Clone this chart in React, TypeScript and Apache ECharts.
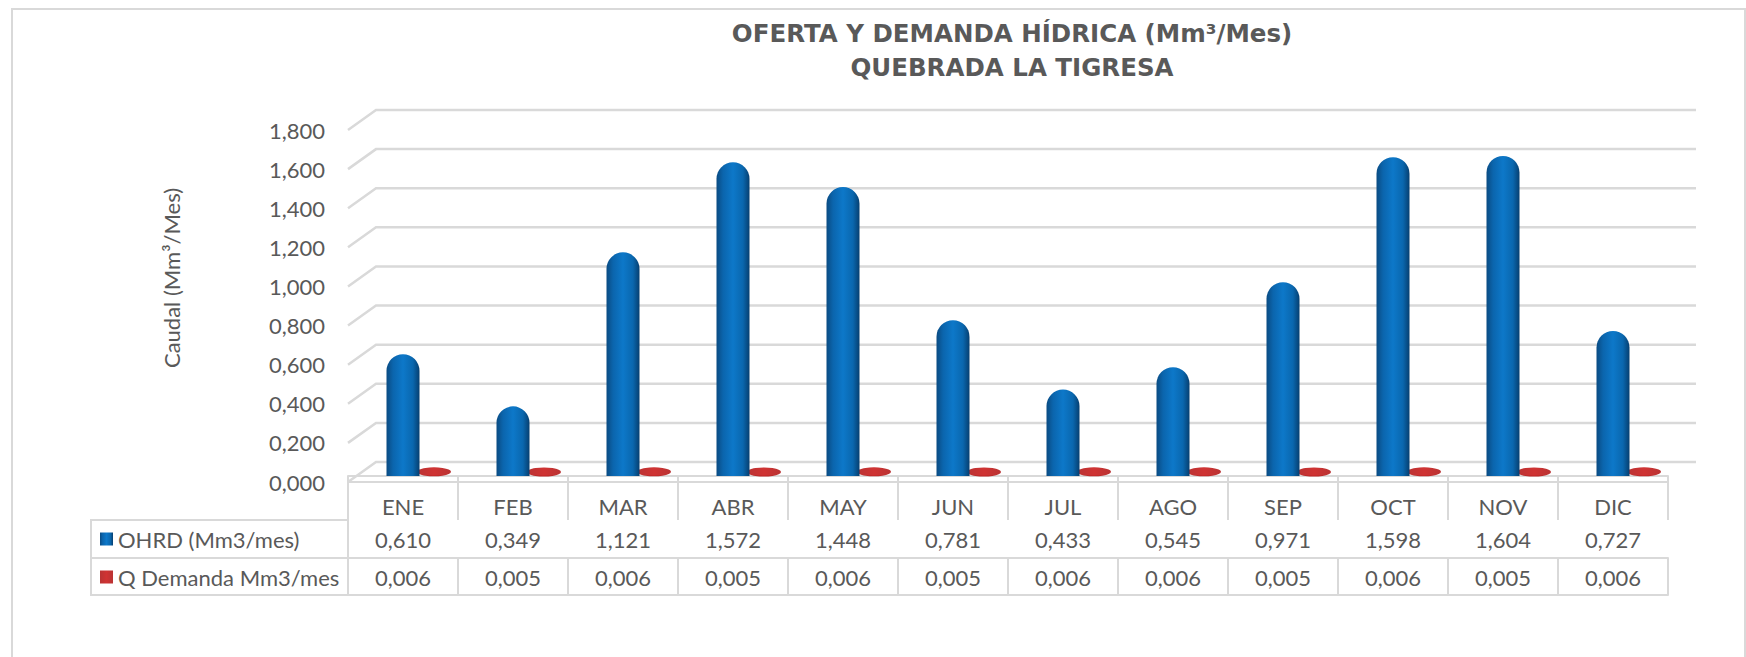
import React, { useEffect, useRef } from "react";
import * as echarts from "echarts";

const months = ["ENE", "FEB", "MAR", "ABR", "MAY", "JUN", "JUL", "AGO", "SEP", "OCT", "NOV", "DIC"];
const ohrd = [0.61, 0.349, 1.121, 1.572, 1.448, 0.781, 0.433, 0.545, 0.971, 1.598, 1.604, 0.727];
const qDemanda = [0.006, 0.005, 0.006, 0.005, 0.006, 0.005, 0.006, 0.006, 0.005, 0.006, 0.005, 0.006];
const yTicks = [0, 0.2, 0.4, 0.6, 0.8, 1.0, 1.2, 1.4, 1.6, 1.8];
const seriesNames = ["OHRD (Mm3/mes)", "Q Demanda Mm3/mes"];
const titleText = "OFERTA Y DEMANDA HÍDRICA (Mm³/Mes)\nQUEBRADA LA TIGRESA";
const yName = "Caudal (Mm³/Mes)";

const fmt = (v: number) => v.toFixed(3).replace(".", ",");

const GRAY = "#595959";
const LINE = "#d9d9d9";
const FONT = "Lato";
const FS = 22;

export default function App() {
  const ref = useRef<HTMLDivElement>(null);
  useEffect(() => {
    if (!ref.current) return;
    const chart = echarts.init(ref.current, undefined, { renderer: "svg" });
    const blue = new echarts.graphic.LinearGradient(0, 0, 1, 0, [
      { offset: 0, color: "#0a4b82" },
      { offset: 0.2, color: "#0b65ad" },
      { offset: 0.5, color: "#0d78c9" },
      { offset: 0.8, color: "#0a67ae" },
      { offset: 1, color: "#063f70" },
    ]);
    const red = new echarts.graphic.LinearGradient(0, 0, 1, 0, [
      { offset: 0, color: "#a80000" },
      { offset: 0.5, color: "#c40000" },
      { offset: 1, color: "#a80000" },
    ]);
    const tickLine = { color: LINE, width: 2 };
    const option: any = {
      animation: false,
      backgroundColor: "#ffffff",
      title: {
        text: titleText,
        left: 1007,
        top: 11,
        textAlign: "center",
        textStyle: {
          fontFamily: "DejaVu Sans",
          fontWeight: "bold",
          fontSize: 24.5,
          lineHeight: 34,
          color: GRAY,
        },
      },
      legend: {
        orient: "vertical",
        left: 100,
        top: 528,
        padding: 0,
        itemGap: 16,
        itemWidth: 13,
        itemHeight: 13,
        selectedMode: false,
        data: [
          { name: seriesNames[0], icon: "rect" },
          { name: seriesNames[1], icon: "rect" },
        ],
        textStyle: { fontFamily: FONT, fontSize: FS, color: GRAY },
      },
      grid: {
        left: 348,
        top: 130,
        width: 1320,
        height: 352,
        containLabel: false,
        outerBoundsMode: "none",
      },
      xAxis: [
        {
          type: "category",
          data: months,
          position: "bottom",
          axisLine: { show: true, lineStyle: tickLine },
          axisTick: { show: true, interval: 0, length: 38, lineStyle: tickLine },
          axisLabel: { interval: 0, margin: 13, fontFamily: FONT, fontSize: FS, color: GRAY },
          splitLine: { show: false },
        },
        {
          type: "category",
          data: months,
          position: "bottom",
          offset: 38,
          axisLine: { show: true, lineStyle: tickLine },
          axisTick: { show: true, interval: 0, length: 38, lineStyle: tickLine },
          axisLabel: {
            interval: 0,
            margin: 8,
            fontFamily: FONT,
            fontSize: FS,
            color: GRAY,
            formatter: (_v: string, i: number) => fmt(ohrd[i]),
          },
        },
        {
          type: "category",
          data: months,
          position: "bottom",
          offset: 76,
          axisLine: { show: true, lineStyle: tickLine },
          axisTick: { show: true, interval: 0, length: 37, lineStyle: tickLine },
          axisLabel: {
            interval: 0,
            margin: 8,
            fontFamily: FONT,
            fontSize: FS,
            color: GRAY,
            formatter: (_v: string, i: number) => fmt(qDemanda[i]),
          },
        },
        {
          type: "category",
          data: months,
          position: "bottom",
          offset: 113,
          axisLine: { show: true, lineStyle: tickLine },
          axisTick: { show: false },
          axisLabel: { show: false },
        },
      ],
      yAxis: [
        {
          type: "value",
          min: 0,
          max: 1.8,
          interval: 0.2,
          name: yName,
          nameLocation: "middle",
          nameRotate: 90,
          nameGap: 166,
          nameTextStyle: { fontFamily: FONT, fontSize: FS, color: GRAY, padding: [0, 0, 0, 56] },
          axisLine: { show: false },
          axisTick: { show: false },
          splitLine: { show: false },
          axisLabel: {
            margin: 23,
            fontFamily: FONT,
            fontSize: FS,
            color: GRAY,
            formatter: (v: number) => fmt(v),
          },
        },
        {
          type: "value",
          min: -0.03,
          max: 1.734,
          show: false,
          splitLine: { show: false },
        },
      ],
      graphic: [
        {
          type: "rect",
          shape: { x: 12, y: 9, width: 1733, height: 700 },
          style: { fill: "none", stroke: LINE, lineWidth: 2 },
          silent: true,
          z: -10,
        },
        {
          type: "rect",
          shape: { x: 91, y: 520, width: 257, height: 75 },
          style: { fill: "none", stroke: LINE, lineWidth: 2 },
          silent: true,
        },
        {
          type: "line",
          shape: { x1: 91, y1: 558, x2: 348, y2: 558 },
          style: { stroke: LINE, lineWidth: 2 },
          silent: true,
        },
      ],
      series: [
        {
          type: "custom",
          name: "wall",
          xAxisIndex: 0,
          yAxisIndex: 0,
          silent: true,
          z: 1,
          data: yTicks.map((v) => [0, v]),
          renderItem: (params: any, api: any) => {
            const y = api.coord([0, api.value(1)])[1];
            const cs = params.coordSys;
            return {
              type: "polyline",
              shape: {
                points: [
                  [cs.x, y],
                  [cs.x + 28, y - 20],
                  [cs.x + cs.width + 28, y - 20],
                ],
              },
              style: { stroke: LINE, lineWidth: 2.5, fill: null },
            };
          },
        },
        {
          type: "bar",
          name: seriesNames[0],
          xAxisIndex: 0,
          yAxisIndex: 1,
          data: ohrd,
          barWidth: 33,
          z: 3,
          itemStyle: { color: blue, borderRadius: [16.5, 16.5, 0, 0] },
        },
        {
          type: "scatter",
          name: seriesNames[1],
          xAxisIndex: 0,
          yAxisIndex: 1,
          data: qDemanda,
          symbol: "circle",
          symbolSize: [34, 9],
          symbolOffset: [31, -3],
          z: 2,
          itemStyle: { color: red },
        },
      ],
    };
    chart.setOption(option);
    return () => chart.dispose();
  }, []);
  return (
    <div
      ref={ref}
      style={{ position: "fixed", left: 0, top: 0, width: 1746, height: 657 }}
    />
  );
}
